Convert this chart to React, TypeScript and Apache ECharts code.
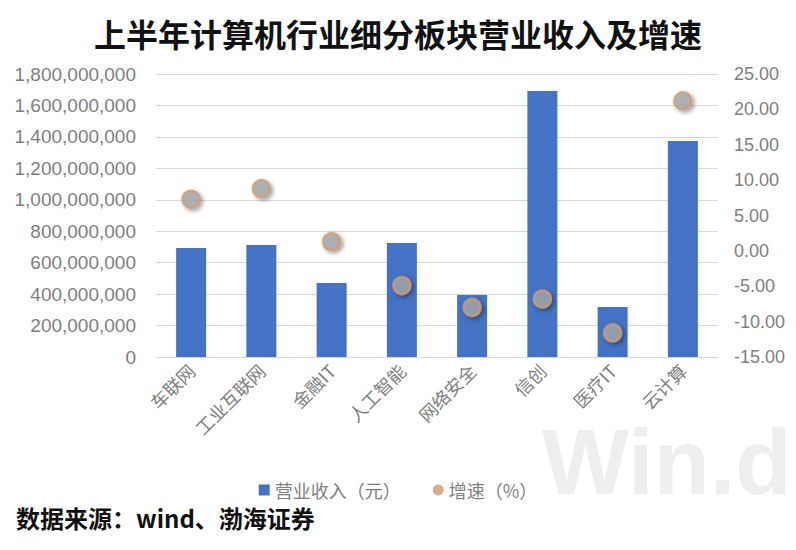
import React, { useEffect, useRef } from "react";
import * as echarts from "echarts";

const categories = ["车联网", "工业互联网", "金融IT", "人工智能", "网络安全", "信创", "医疗IT", "云计算"];
const revenue = [693000000, 712000000, 471000000, 725000000, 394000000, 1692000000, 318000000, 1374000000];
const growth = [7.3, 8.8, 1.3, -4.9, -8.0, -6.8, -11.6, 21.2];
const seriesNames = ["营业收入（元）", "增速（%）"];
const titleText = "上半年计算机行业细分板块营业收入及增速";
const sourceText = "数据来源：wind、渤海证券";
const watermarkText = "Win.d";

export default function App() {
  const ref = useRef<HTMLDivElement>(null);
  useEffect(() => {
    const chart = echarts.init(ref.current!, null, { renderer: "svg" });
    const font = "'Noto Sans CJK SC', 'Liberation Sans', sans-serif";
    chart.setOption({
      animation: false,
      backgroundColor: "#ffffff",
      textStyle: { fontFamily: font },
      title: {
        text: titleText,
        left: "center",
        top: 12,
        textStyle: { fontSize: 32, fontWeight: "bold", color: "#111111", fontFamily: font },
      },
      graphic: [
        {
          type: "text",
          left: 542,
          top: 416,
          z: -10,
          silent: true,
          style: {
            text: watermarkText,
            fontSize: 92,
            fontWeight: "bold",
            fill: "#eeeeee",
            fontFamily: "'Liberation Sans', sans-serif",
          },
        },
        {
          type: "text",
          left: 16,
          top: 505,
          style: {
            text: sourceText,
            fontSize: 24,
            fontWeight: "bold",
            fill: "#111111",
            fontFamily: font,
          },
        },
      ],
      legend: {
        data: [
          { name: seriesNames[0], icon: "rect" },
          { name: seriesNames[1], icon: "circle", itemStyle: { color: "#c89a74", borderWidth: 0, shadowBlur: 0 } },
        ],
        left: "center",
        top: 476,
        itemWidth: 11,
        itemHeight: 11,
        itemGap: 32,
        textStyle: { fontSize: 18, color: "#7f7f7f", fontFamily: font },
      },
      grid: { left: 156, right: 78, top: 74, bottom: 193, containLabel: false },
      xAxis: {
        type: "category",
        data: categories,
        axisLine: { show: true, lineStyle: { color: "#d9d9d9" } },
        axisTick: { show: false },
        axisLabel: { rotate: 45, fontSize: 18, color: "#7f7f7f", margin: 10, interval: 0, fontFamily: font },
      },
      yAxis: [
        {
          type: "value",
          min: 0,
          max: 1800000000,
          interval: 200000000,
          axisLine: { show: false },
          axisTick: { show: false },
          splitLine: { lineStyle: { color: "#d9d9d9", width: 1 } },
          axisLabel: {
            fontSize: 19,
            color: "#7f7f7f",
            margin: 20,
            fontFamily: "'Liberation Sans', sans-serif",
            formatter: (v: number) => v.toLocaleString("en-US"),
          },
        },
        {
          type: "value",
          min: -15,
          max: 25,
          interval: 5,
          axisLine: { show: false },
          axisTick: { show: false },
          splitLine: { show: false },
          axisLabel: {
            fontSize: 18,
            color: "#7f7f7f",
            margin: 16,
            fontFamily: "'Liberation Sans', sans-serif",
            formatter: (v: number) => v.toFixed(2),
          },
        },
      ],
      series: [
        {
          name: seriesNames[0],
          type: "bar",
          data: revenue,
          barWidth: 30,
          yAxisIndex: 0,
          itemStyle: { color: "#4472c4" },
        },
        {
          name: seriesNames[1],
          type: "scatter",
          data: growth,
          yAxisIndex: 1,
          symbol: "circle",
          symbolSize: 17,
          z: 5,
          itemStyle: {
            color: "#a5a9ae",
            borderColor: "#d29b6e",
            borderWidth: 2.5,
            shadowBlur: 4,
            shadowOffsetX: 2,
            shadowOffsetY: 2,
            shadowColor: "rgba(0,0,0,0.45)",
          },
        },
      ],
    });
    return () => chart.dispose();
  }, []);
  return <div ref={ref} style={{ position: "fixed", left: 0, top: 0, width: 796, height: 550 }} />;
}
